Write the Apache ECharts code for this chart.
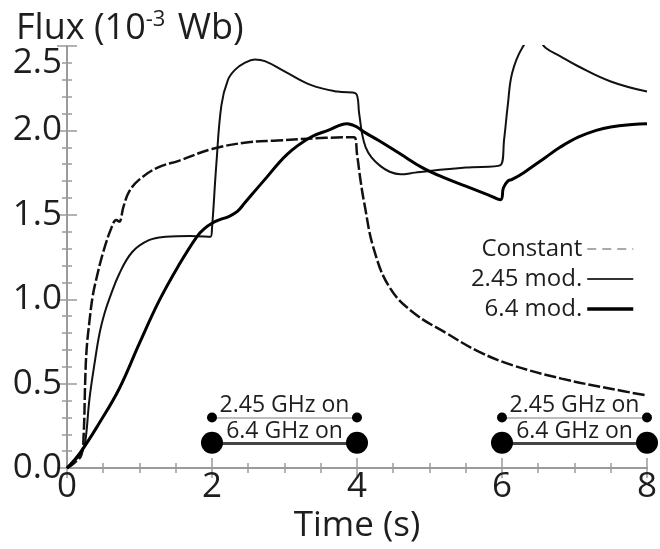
<!DOCTYPE html>
<html>
<head>
<meta charset="utf-8">
<script src="https://cdn.jsdelivr.net/npm/echarts@6/dist/echarts.min.js"></script>
<style>html,body{margin:0;padding:0;background:#fff}#c{width:660px;height:549px}</style>
</head>
<body>
<div id="c"></div>
<script>
// ---- data (time in s, flux in 10^-3 Wb) ----
var constantData = [[0,0],[0.1,0.03],[0.2,0.08],[0.23,0.2],[0.25,0.5],[0.27,0.7],[0.31,0.87],[0.355,1.02],[0.41,1.13],[0.5,1.28],[0.61,1.42],[0.68,1.47],[0.72,1.46],[0.78,1.55],[0.86,1.64],[1.0,1.71],[1.25,1.78],[1.54,1.82],[2.0,1.89],[2.5,1.93],[2.9,1.94],[3.5,1.955],[3.96,1.96],[4.0,1.86],[4.05,1.7],[4.1,1.57],[4.23,1.30],[4.45,1.07],[4.78,0.92],[5.23,0.80],[5.68,0.69],[6.14,0.61],[6.82,0.53],[7.5,0.47],[8.0,0.43]];
var mod245Data = [[0,0],[0.1,0.04],[0.2,0.09],[0.25,0.15],[0.31,0.41],[0.38,0.62],[0.45,0.80],[0.52,0.92],[0.59,1.01],[0.72,1.15],[0.9,1.28],[1.13,1.35],[1.36,1.37],[1.7,1.375],[1.98,1.37],[2.0,1.42],[2.06,1.8],[2.13,2.15],[2.22,2.3],[2.32,2.36],[2.45,2.40],[2.59,2.42],[2.73,2.41],[3.0,2.35],[3.36,2.27],[3.73,2.23],[3.98,2.22],[4.03,2.1],[4.07,1.98],[4.12,1.9],[4.2,1.84],[4.32,1.79],[4.45,1.755],[4.6,1.74],[4.8,1.75],[5.0,1.76],[5.5,1.78],[5.98,1.795],[6.03,1.95],[6.08,2.15],[6.14,2.34],[6.28,2.49],[6.45,2.56],[6.6,2.49],[6.8,2.44],[7.05,2.38],[7.5,2.29],[8.0,2.23]];
var mod64Data = [[0,0],[0.18,0.09],[0.45,0.27],[0.72,0.47],[1.0,0.74],[1.27,0.99],[1.54,1.2],[1.79,1.37],[1.9,1.42],[2.0,1.45],[2.1,1.47],[2.23,1.49],[2.35,1.52],[2.45,1.57],[2.73,1.71],[3.04,1.86],[3.36,1.96],[3.6,2.0],[3.86,2.04],[3.95,2.03],[4.0,2.02],[4.1,1.99],[4.3,1.94],[4.6,1.86],[4.9,1.78],[5.2,1.72],[5.5,1.67],[5.8,1.62],[5.98,1.59],[6.02,1.66],[6.08,1.70],[6.14,1.71],[6.3,1.75],[6.6,1.84],[6.8,1.9],[7.05,1.96],[7.3,2.0],[7.5,2.02],[7.8,2.035],[8.0,2.04]];
var onStart = [2, 6];
var onEnd = [4, 8];
var level245 = 0.30;
var level64 = 0.15;
var seriesNames = ['Constant', '2.45 mod.', '6.4 mod.'];
var label245 = '2.45 GHz on';
var label64 = '6.4 GHz on';
var xTicks = [0, 8, 2];
var yTicks = [0, 2.5, 0.5];

var FONT = '"Open Sans", "Noto Sans", sans-serif';
var TXT = '#1e1e1e';
var AX = '#9a9a9a';

var dots245 = [], dots64 = [];
for (var i = 0; i < onStart.length; i++) {
  dots245.push([onStart[i], level245], [onEnd[i], level245]);
  dots64.push([onStart[i], level64], [onEnd[i], level64]);
}
function seg(level, text, i) {
  return [{ coord: [onStart[i], level], label: { formatter: text } }, { coord: [onEnd[i], level] }];
}

var tickBase = { inside: true, length: 10, lineStyle: { color: AX, width: 1.5 } };
var lineBase = { show: true, lineStyle: { color: AX, width: 2 } };
var hideSym = { opacity: 0 };

var chart = echarts.init(document.getElementById('c'), null, { renderer: 'canvas' });
chart.setOption({
  animation: false,
  backgroundColor: '#fff',
  textStyle: { fontFamily: FONT },
  title: {
    left: 11, top: 4,
    text: '{a|Flux (10}{s|-3}{a| Wb)}',
    textStyle: {
      fontWeight: 'normal',
      rich: {
        a: { fontSize: 36, color: TXT, fontFamily: FONT, fontWeight: 'normal' },
        s: { fontSize: 22, color: TXT, fontFamily: FONT, fontWeight: 'normal', padding: [0, 3, 18, 0] }
      }
    }
  },
  legend: {
    data: [
      { name: seriesNames[0], itemStyle: hideSym, lineStyle: { color: '#aaaaaa', type: [9, 6], width: 2 } },
      { name: seriesNames[1], itemStyle: hideSym, lineStyle: { color: '#333', width: 2 } },
      { name: seriesNames[2], itemStyle: hideSym, lineStyle: { color: '#000', width: 3.5 } }
    ],
    orient: 'vertical', right: 20, top: 232, align: 'right',
    itemWidth: 46, itemHeight: 16, itemGap: 6,
    textStyle: { fontSize: 24, lineHeight: 16, color: TXT, fontFamily: FONT },
    selectedMode: false
  },
  grid: { left: 67, right: 6, top: 46, bottom: 70, containLabel: false },
  xAxis: [{
    type: 'value', min: xTicks[0], max: xTicks[1], interval: xTicks[2], position: 'bottom',
    name: 'Time (s)', nameLocation: 'middle', nameGap: 30,
    nameTextStyle: { fontSize: 35, color: TXT, fontFamily: FONT },
    axisLine: lineBase, axisTick: tickBase,
    minorTick: { show: true, splitNumber: 4, length: 5, lineStyle: { color: AX, width: 1.5 } },
    axisLabel: { fontSize: 35, color: TXT, margin: 1, fontFamily: FONT },
    splitLine: { show: false }
  }, {
    type: 'value', min: xTicks[0], max: xTicks[1], interval: xTicks[2], position: 'top',
    axisLine: lineBase, axisTick: tickBase,
    minorTick: { show: true, splitNumber: 4, length: 5, lineStyle: { color: AX, width: 1.5 } },
    axisLabel: { show: false }, splitLine: { show: false }
  }],
  yAxis: [{
    type: 'value', min: yTicks[0], max: yTicks[1], interval: yTicks[2], position: 'left',
    axisLine: lineBase, axisTick: tickBase,
    minorTick: { show: true, splitNumber: 5, length: 5, lineStyle: { color: AX, width: 1.5 } },
    axisLabel: {
      fontSize: 35, color: TXT, margin: 5, fontFamily: FONT,
      formatter: function (v) { return v >= yTicks[1] ? '{t|' + v.toFixed(1) + '}' : v.toFixed(1); },
      rich: { t: { fontSize: 35, color: TXT, fontFamily: FONT, padding: [34, 0, 0, 0] } }
    },
    splitLine: { show: false }
  }, {
    type: 'value', min: yTicks[0], max: yTicks[1], interval: yTicks[2], position: 'right',
    axisLine: lineBase, axisTick: tickBase,
    minorTick: { show: true, splitNumber: 5, length: 5, lineStyle: { color: AX, width: 1.5 } },
    axisLabel: { show: false }, splitLine: { show: false }
  }],
  series: [
    {
      name: seriesNames[0], type: 'line', data: constantData, symbol: 'none',
      smooth: 0.4,
      lineStyle: { color: '#111', width: 2.5, type: [12, 3] }, z: 3
    },
    {
      name: seriesNames[1], type: 'line', data: mod245Data, symbol: 'none',
      smooth: 0.4,
      lineStyle: { color: '#111', width: 2 }, z: 3
    },
    {
      name: seriesNames[2], type: 'line', data: mod64Data, symbol: 'none',
      smooth: 0.4,
      lineStyle: { color: '#000', width: 3 }, z: 3
    },
    {
      name: 'on245', type: 'scatter', data: dots245, symbolSize: 10, clip: false,
      itemStyle: { color: '#000', opacity: 1 }, silent: true, z: 5,
      markLine: {
        silent: true, symbol: ['none', 'none'],
        lineStyle: { color: '#bdbdbd', width: 2, type: 'solid', opacity: 1 },
        label: { show: true, position: 'insideMiddleTop', distance: 0, fontSize: 23, color: TXT, fontFamily: FONT },
        data: [seg(level245, label245, 0), seg(level245, label245, 1)]
      }
    },
    {
      name: 'on64', type: 'scatter', data: dots64, symbolSize: 22, clip: false,
      itemStyle: { color: '#000', opacity: 1 }, silent: true, z: 5,
      markLine: {
        silent: true, symbol: ['none', 'none'],
        lineStyle: { color: '#444', width: 3, type: 'solid', opacity: 1 },
        label: { show: true, position: 'insideMiddleTop', distance: 0, fontSize: 23, color: TXT, fontFamily: FONT },
        data: [seg(level64, label64, 0), seg(level64, label64, 1)]
      }
    }
  ]
});
</script>
</body>
</html>
